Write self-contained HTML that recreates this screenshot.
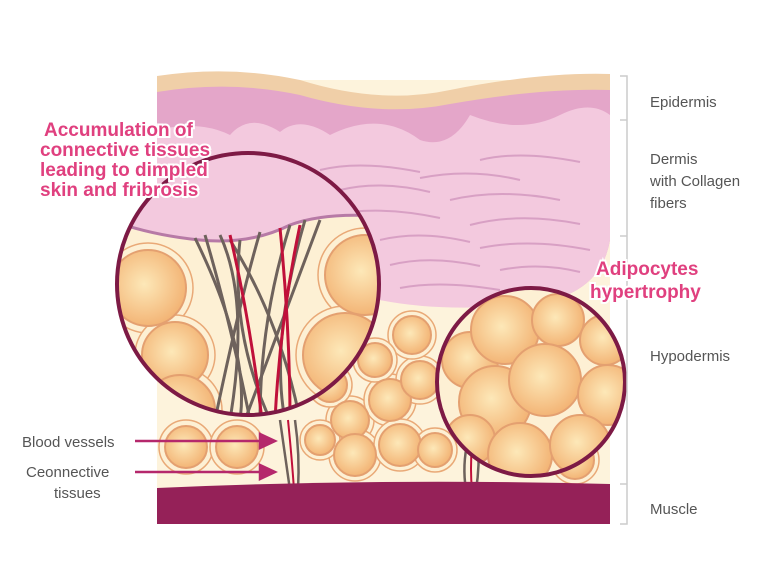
<!DOCTYPE html>
<html><head><style>
body{margin:0;background:#fff;width:780px;height:580px;overflow:hidden}
text{font-family:"Liberation Sans",sans-serif}
</style></head><body>
<svg width="780" height="580" viewBox="0 0 780 580">
<defs>
<radialGradient id="fat" cx="45%" cy="45%" r="60%"><stop offset="0" stop-color="#fde8b8"/><stop offset="1" stop-color="#f2b070"/></radialGradient>
<clipPath id="c1"><circle cx="248" cy="284" r="131"/></clipPath>
<clipPath id="c2"><circle cx="531" cy="382" r="94"/></clipPath>
</defs>
<rect x="157" y="80" width="453" height="410" fill="#fdf3dc"/>
<path d="M157 76 Q230 65 300 80 Q380 105 450 90 Q540 72 610 74 L610 120 L157 120Z" fill="#f0cfa8"/>
<path d="M157 92 Q230 80 300 95 Q380 118 450 104 Q540 88 610 90 L610 240 Q600 300 520 305 Q440 310 380 300 L157 300Z" fill="#e4a6c9"/>
<path d="M157 130 Q200 120 230 135 Q250 112 280 132 Q300 115 330 135 Q380 110 420 140 Q450 150 470 115 Q520 135 560 115 Q590 100 610 115 L610 240 Q600 300 520 305 Q440 312 380 300 L157 300Z" fill="#f3c9de"/>
<g stroke="#d8a0c4" stroke-width="2" fill="none">
<path d="M320 170 Q360 160 420 172"/><path d="M420 178 Q470 168 520 180"/><path d="M340 190 Q380 180 430 192"/><path d="M450 200 Q500 188 560 200"/><path d="M330 215 Q380 205 440 218"/><path d="M470 225 Q520 212 580 224"/><path d="M380 240 Q420 230 470 242"/><path d="M480 248 Q530 238 590 250"/><path d="M390 265 Q430 255 480 266"/><path d="M500 270 Q540 262 580 272"/><path d="M400 288 Q440 280 500 290"/><path d="M480 160 Q520 150 580 162"/>
</g>
<g fill="#fdf0d4" stroke="#e9a977" stroke-width="1.5">
<circle cx="186" cy="447" r="27"/><circle cx="237" cy="447" r="27"/><circle cx="350" cy="420" r="24"/><circle cx="390" cy="400" r="26"/><circle cx="420" cy="380" r="24"/><circle cx="412" cy="335" r="24"/><circle cx="355" cy="455" r="26"/><circle cx="400" cy="445" r="26"/><circle cx="435" cy="450" r="22"/><circle cx="330" cy="385" r="22"/><circle cx="575" cy="460" r="24"/><circle cx="375" cy="360" r="22"/><circle cx="320" cy="440" r="20"/>
</g>
<g fill="url(#fat)" stroke="#e4a070" stroke-width="2">
<circle cx="186" cy="447" r="21"/><circle cx="237" cy="447" r="21"/><circle cx="350" cy="420" r="19"/><circle cx="390" cy="400" r="21"/><circle cx="420" cy="380" r="19"/><circle cx="412" cy="335" r="19"/><circle cx="355" cy="455" r="21"/><circle cx="400" cy="445" r="21"/><circle cx="435" cy="450" r="17"/><circle cx="330" cy="385" r="17"/><circle cx="575" cy="460" r="19"/><circle cx="375" cy="360" r="17"/><circle cx="320" cy="440" r="15"/>
</g>
<g stroke="#6e625c" stroke-width="2.5" fill="none"><path d="M280 420 Q285 455 290 490"/><path d="M295 420 Q300 455 298 490"/><path d="M468 440 Q462 465 466 490"/><path d="M478 440 Q480 465 476 490"/></g>
<g stroke="#c0103a" stroke-width="2" fill="none"><path d="M288 420 Q292 460 294 490"/><path d="M472 445 Q470 470 472 490"/></g>
<path d="M157 488 Q380 478 610 484 L610 524 L157 524Z" fill="#952158"/>
<g clip-path="url(#c1)">
<rect x="100" y="140" width="300" height="290" fill="#fdf0d4"/>
<g fill="#fdf0d4" stroke="#e9a977" stroke-width="1.5">
<circle cx="148" cy="288" r="45"/><circle cx="175" cy="355" r="40"/><circle cx="180" cy="410" r="42"/><circle cx="365" cy="275" r="47"/><circle cx="345" cy="355" r="49"/>
</g>
<g fill="url(#fat)" stroke="#e4a070" stroke-width="2">
<circle cx="148" cy="288" r="38"/><circle cx="175" cy="355" r="33"/><circle cx="180" cy="410" r="35"/><circle cx="365" cy="275" r="40"/><circle cx="345" cy="355" r="42"/>
</g>
<path d="M100 140 L400 140 L400 218 Q330 210 290 225 Q250 245 200 240 Q150 235 110 220Z" fill="#f3c9de" stroke="#b77aa6" stroke-width="3"/>
<g stroke="#6e625c" stroke-width="3" fill="none">
<path d="M205 235 Q230 320 250 420"/><path d="M220 235 Q250 300 230 420"/><path d="M240 240 Q230 330 270 420"/><path d="M260 232 Q240 300 215 420"/><path d="M290 225 Q260 320 260 420"/><path d="M305 220 Q270 340 285 420"/><path d="M230 240 Q280 320 300 420"/><path d="M195 238 Q250 350 240 420"/><path d="M320 220 Q290 300 245 420"/>
</g>
<g stroke="#c0103a" stroke-width="3" fill="none"><path d="M230 235 Q250 320 262 420"/><path d="M300 225 Q280 320 275 420"/><path d="M280 228 Q290 330 290 420"/></g>
</g>
<circle cx="248" cy="284" r="131" fill="none" stroke="#7d1a45" stroke-width="4"/>
<g clip-path="url(#c2)">
<rect x="430" y="280" width="200" height="200" fill="#fdf0d4"/>
<g fill="url(#fat)" stroke="#e4a070" stroke-width="2">
<circle cx="470" cy="360" r="28"/><circle cx="505" cy="330" r="34"/><circle cx="558" cy="320" r="26"/><circle cx="605" cy="340" r="25"/><circle cx="495" cy="402" r="36"/><circle cx="545" cy="380" r="36"/><circle cx="608" cy="395" r="30"/><circle cx="470" cy="440" r="25"/><circle cx="520" cy="455" r="32"/><circle cx="580" cy="445" r="30"/>
</g>
</g>
<circle cx="531" cy="382" r="94" fill="none" stroke="#7d1a45" stroke-width="4"/>
<g stroke="#b5286c" stroke-width="2.5" fill="#b5286c">
<line x1="135" y1="441" x2="262" y2="441"/><path d="M260 434 L275 441 L260 448Z"/>
<line x1="135" y1="472" x2="262" y2="472"/><path d="M260 465 L275 472 L260 479Z"/>
</g>
<g stroke="#ccc" stroke-width="1.5" fill="none">
<path d="M620 76 H627 V524 H620"/><path d="M620 120 H627"/><path d="M620 236 H627"/><path d="M620 484 H627"/>
</g>
<g fill="#555" font-size="15">
<text x="650" y="107">Epidermis</text>
<text x="650" y="164">Dermis</text><text x="650" y="186">with Collagen</text><text x="650" y="208">fibers</text>
<text x="650" y="361">Hypodermis</text>
<text x="650" y="514">Muscle</text>
<text x="22" y="447">Blood vessels</text>
<text x="26" y="477">Ceonnective</text><text x="54" y="498">tissues</text>
</g>
<g fill="#e0407f" font-size="19" font-weight="bold" stroke="#fff" stroke-width="4" paint-order="stroke">
<text x="44" y="136">Accumulation of</text>
<text x="40" y="156">connective tissues</text>
<text x="40" y="176">leading to dimpled</text>
<text x="40" y="196">skin and fribrosis</text>
<text x="596" y="275">Adipocytes</text>
<text x="590" y="298">hypertrophy</text>
</g>
</svg>
</body></html>
